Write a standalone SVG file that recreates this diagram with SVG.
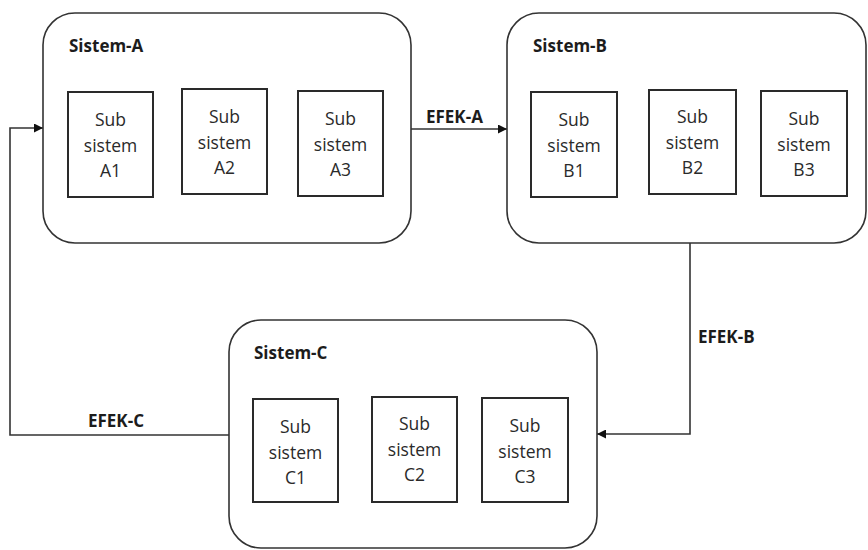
<svg xmlns="http://www.w3.org/2000/svg" width="868" height="550" viewBox="0 0 868 550">
  <defs>
    <marker id="arrow" viewBox="0 0 10 10" refX="10" refY="5" markerWidth="10" markerHeight="9" markerUnits="userSpaceOnUse" orient="auto">
      <path d="M0,0 L10,5 L0,10 z" fill="#111"/>
    </marker>
    <style>
      .system { fill: #fff; stroke: #333; stroke-width: 1.6; }
      .sub { fill: #fff; stroke: #2a2a2a; stroke-width: 2; }
      .title { font-family: "Open Sans", "Liberation Sans", sans-serif; font-weight: bold; font-size: 17px; fill: #1c1c1c; }
      .label { font-family: "Open Sans", "Liberation Sans", sans-serif; font-size: 17.5px; fill: #2a2a2a; text-anchor: middle; }
      .effect { font-family: "Open Sans", "Liberation Sans", sans-serif; font-weight: bold; font-size: 17px; fill: #1c1c1c; }
      .link { fill: none; stroke: #333; stroke-width: 1.6; }
    </style>
  </defs>
  <rect width="868" height="550" fill="#fff"/>

  <!-- flows between systems -->
  <g id="connectors">
    <path class="link" d="M411,129 L507,129" marker-end="url(#arrow)"/>
    <path class="link" d="M690,243 L690,434 L597,434" marker-end="url(#arrow)"/>
    <path class="link" d="M229,435 L10,435 L10,128 L43,128" marker-end="url(#arrow)"/>
    <text class="effect" x="426" y="123">EFEK-A</text>
    <text class="effect" x="698" y="343">EFEK-B</text>
    <text class="effect" x="88" y="427">EFEK-C</text>
  </g>

  <!-- System A -->
  <g id="sistem-a">
    <rect class="system" x="43" y="13" width="368" height="230" rx="32"/>
    <text class="title" x="69" y="52">Sistem-A</text>
    <g id="sub-a1">
      <rect class="sub" x="68" y="92" width="85" height="105"/>
      <text class="label" x="110.5" y="126">Sub</text>
      <text class="label" x="110.5" y="152">sistem</text>
      <text class="label" x="110.5" y="177">A1</text>
    </g>
    <g id="sub-a2">
      <rect class="sub" x="182" y="89" width="85" height="105"/>
      <text class="label" x="224.5" y="123">Sub</text>
      <text class="label" x="224.5" y="149">sistem</text>
      <text class="label" x="224.5" y="174">A2</text>
    </g>
    <g id="sub-a3">
      <rect class="sub" x="298" y="91" width="85" height="105"/>
      <text class="label" x="340.5" y="125">Sub</text>
      <text class="label" x="340.5" y="151">sistem</text>
      <text class="label" x="340.5" y="176">A3</text>
    </g>
  </g>

  <!-- System B -->
  <g id="sistem-b">
    <rect class="system" x="507" y="13" width="359" height="230" rx="32"/>
    <text class="title" x="533" y="52">Sistem-B</text>
    <g id="sub-b1">
      <rect class="sub" x="531" y="92" width="86" height="105"/>
      <text class="label" x="574" y="126">Sub</text>
      <text class="label" x="574" y="152">sistem</text>
      <text class="label" x="574" y="177">B1</text>
    </g>
    <g id="sub-b2">
      <rect class="sub" x="649" y="90" width="87" height="104"/>
      <text class="label" x="692.5" y="123">Sub</text>
      <text class="label" x="692.5" y="149">sistem</text>
      <text class="label" x="692.5" y="174">B2</text>
    </g>
    <g id="sub-b3">
      <rect class="sub" x="761" y="91" width="86" height="105"/>
      <text class="label" x="804" y="125">Sub</text>
      <text class="label" x="804" y="151">sistem</text>
      <text class="label" x="804" y="176">B3</text>
    </g>
  </g>

  <!-- System C -->
  <g id="sistem-c">
    <rect class="system" x="229" y="320" width="368" height="228" rx="32"/>
    <text class="title" x="254" y="359">Sistem-C</text>
    <g id="sub-c1">
      <rect class="sub" x="253" y="399" width="85" height="103"/>
      <text class="label" x="295.5" y="433">Sub</text>
      <text class="label" x="295.5" y="459">sistem</text>
      <text class="label" x="295.5" y="484">C1</text>
    </g>
    <g id="sub-c2">
      <rect class="sub" x="372" y="397" width="85" height="105"/>
      <text class="label" x="414.5" y="430">Sub</text>
      <text class="label" x="414.5" y="456">sistem</text>
      <text class="label" x="414.5" y="481">C2</text>
    </g>
    <g id="sub-c3">
      <rect class="sub" x="482" y="398" width="86" height="104"/>
      <text class="label" x="525" y="432">Sub</text>
      <text class="label" x="525" y="458">sistem</text>
      <text class="label" x="525" y="483">C3</text>
    </g>
  </g>
</svg>
